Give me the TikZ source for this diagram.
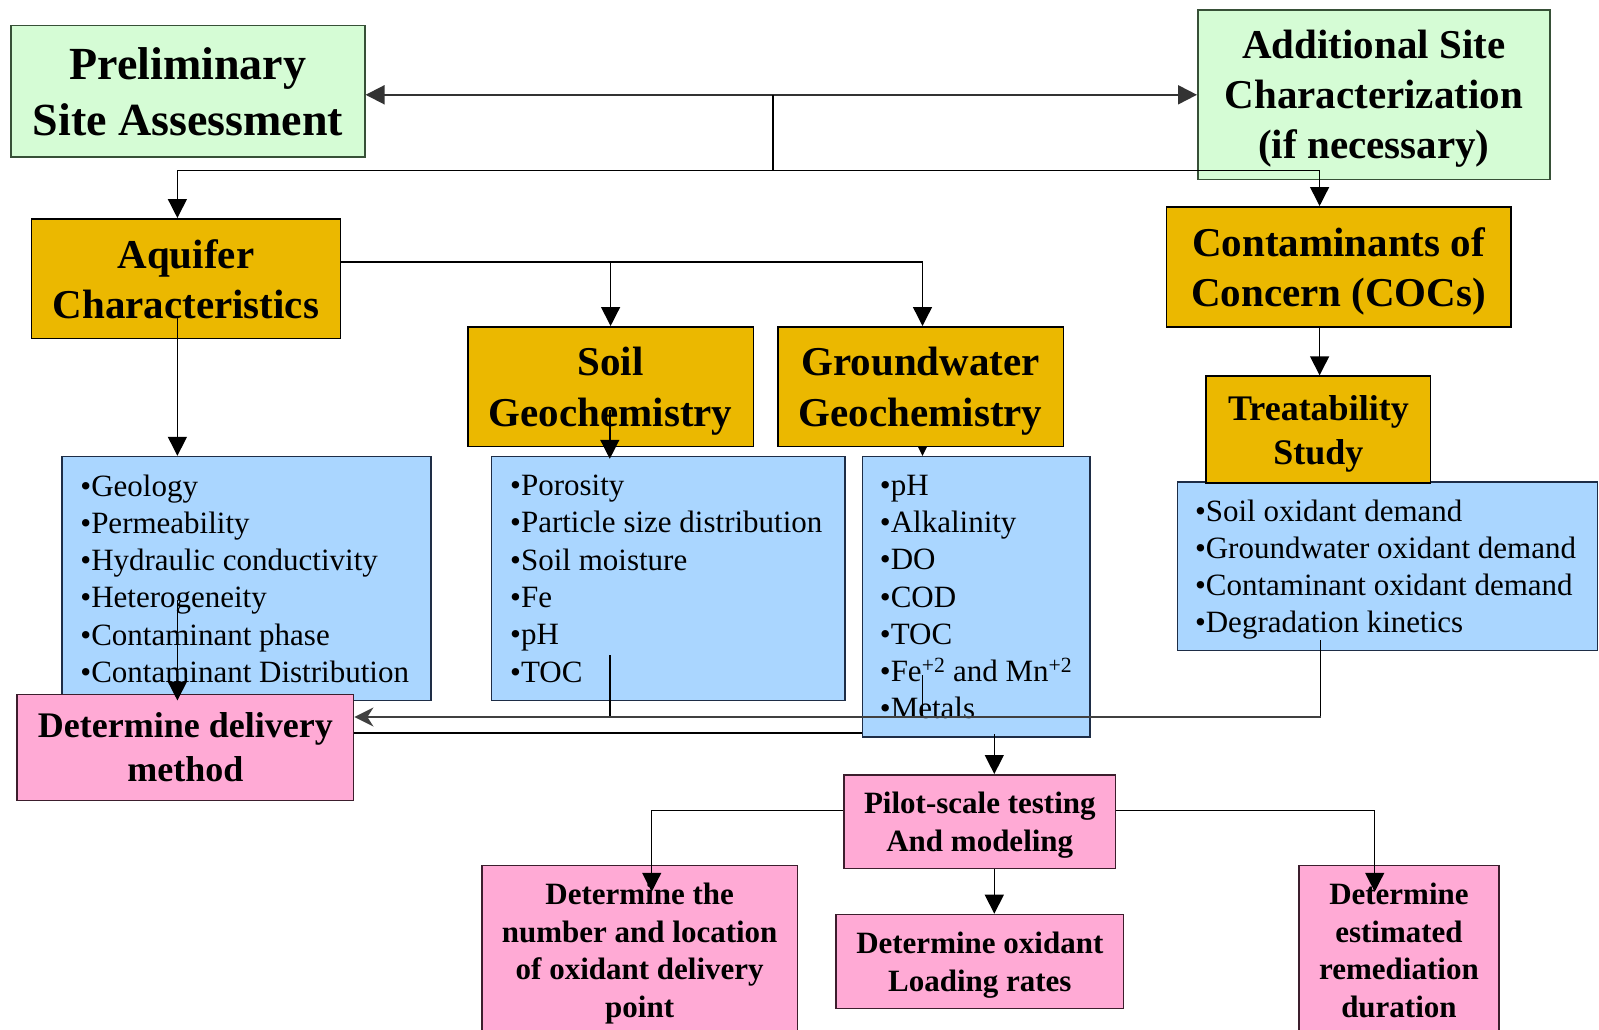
\documentclass[tikz,border=0pt]{standalone}
\usepackage{fontspec}
\setmainfont{Liberation Serif}
\usetikzlibrary{arrows.meta}
\pgfdeclarelayer{background}
\pgfsetlayers{background,main}
\definecolor{cgreen}{RGB}{213,252,213}
\definecolor{cgreenline}{RGB}{55,80,55}
\definecolor{cgold}{RGB}{235,184,0}
\definecolor{cblue}{RGB}{170,214,255}
\definecolor{cblueline}{RGB}{30,45,70}
\definecolor{cpink}{RGB}{255,170,213}
\definecolor{cpinkline}{RGB}{60,30,45}
\begin{document}
\begin{tikzpicture}[x=1pt,y=-1pt,
  box/.style={draw, line width=1.6pt, inner sep=0pt, anchor=north west, align=center, text depth=0pt},
  greenbox/.style={box, fill=cgreen, draw=cgreenline},
  goldbox/.style={box, fill=cgold, draw=black, font=\bfseries\fontsize{41}{50}\selectfont},
  bluebox/.style={box, fill=cblue, draw=cblueline},
  pinkbox/.style={box, fill=cpink, draw=cpinkline, font=\bfseries\fontsize{31}{38}\selectfont},
  listtext/.style={anchor=west, align=left, inner sep=0pt, text depth=0pt, font=\fontsize{31}{37.3}\selectfont},
  conn/.style={line width=1.4pt, draw=black},
  arr/.style={conn, -{Triangle[length=19pt,width=19pt]}},
]
\useasboundingbox (0,0) rectangle (1599,1029);

% top boxes
\node[greenbox, minimum width=353.8pt, minimum height=131.5pt, font=\bfseries\fontsize{46}{56}\selectfont] (prelim) at (10.2,24.5) {Preliminary\\Site Assessment};
\node[greenbox, minimum width=352pt, minimum height=169.3pt, font=\bfseries\fontsize{41}{50}\selectfont] (addl) at (1197,9.2) {Additional Site\\Characterization\\(if necessary)};

% gold boxes
\node[goldbox, minimum width=309pt, minimum height=119.6pt] (aq) at (30.6,218) {Aquifer\\Characteristics};
\node[goldbox, minimum width=344.4pt, minimum height=120pt] (coc) at (1165.6,206) {Contaminants of\\Concern (COCs)};
\node[goldbox, minimum width=285.6pt, minimum height=119.6pt, font=\bfseries\fontsize{41}{51}\selectfont] (soil) at (467,326) {Soil\\Geochemistry};
\node[goldbox, minimum width=285.6pt, minimum height=119.6pt, font=\bfseries\fontsize{41}{51}\selectfont] (gw) at (777,326) {Groundwater\\Geochemistry};

% lists
\node[bluebox, minimum width=369.2pt, minimum height=243.8pt] (aqlist) at (61.2,455.8) {};
\node[listtext] (aqlistt) at ([xshift=19pt]aqlist.west) {•Geology\\•Permeability\\•Hydraulic conductivity\\•Heterogeneity\\•Contaminant phase\\•Contaminant Distribution};
\node[bluebox, minimum width=353.9pt, minimum height=243.8pt] (soillist) at (490.5,455.8) {};
\node[listtext] (soillistt) at ([xshift=19.5pt]soillist.west) {•Porosity\\•Particle size distribution\\•Soil moisture\\•Fe\\•pH\\•TOC};
\node[bluebox, minimum width=227.4pt, minimum height=280.5pt] (gwlist) at (861.7,455.8) {};
\node[listtext] (gwlistt) at ([xshift=18pt]gwlist.west) {•pH\\•Alkalinity\\•DO\\•COD\\•TOC\\•Fe\textsuperscript{+2} and Mn\textsuperscript{+2}\\•Metals};
\node[bluebox, minimum width=420pt, minimum height=168.3pt] (treatlist) at (1176.8,481.3) {};
\node[listtext] (treatlistt) at ([xshift=18pt]treatlist.west) {•Soil oxidant demand\\•Groundwater oxidant demand\\•Contaminant oxidant demand\\•Degradation kinetics};

\node[goldbox, minimum width=224.4pt, minimum height=107.1pt, font=\bfseries\fontsize{36}{44}\selectfont] (treat) at (1205.4,375.3) {Treatability\\Study};

% pink boxes
\node[pinkbox, minimum width=336.5pt, minimum height=106pt, font=\bfseries\fontsize{36}{44}\selectfont] (deliv) at (16.3,693.5) {Determine delivery\\method};
\node[pinkbox, minimum width=271.2pt, minimum height=93.8pt] (pilot) at (843.4,774) {Pilot-scale testing\\And modeling};
\node[pinkbox, minimum width=315.2pt, minimum height=169.2pt, font=\bfseries\fontsize{31}{37.5}\selectfont] (number) at (481.3,864.8) {Determine the\\number and location\\of oxidant delivery\\point};
\node[pinkbox, minimum width=287.6pt, minimum height=93.9pt] (loading) at (835.2,913.7) {Determine oxidant\\Loading rates};
\node[pinkbox, minimum width=199.9pt, minimum height=169.2pt, font=\bfseries\fontsize{31}{37.5}\selectfont] (duration) at (1298.2,864.8) {Determine\\estimated\\remediation\\duration};

% connectors
\coordinate (jtop) at (773,94.8);
\coordinate (jmid) at (773,170.3);
\coordinate (jleft) at (177.4,170.3);
\coordinate (jright) at (1319.6,170.3);
\draw[line width=2pt, draw=black!80, {Triangle[length=19pt,width=19pt]}-{Triangle[length=19pt,width=19pt]}] (prelim.east |- jtop) -- (addl.west |- jtop);
\draw[conn] (jtop) -- (jmid);
\draw[conn] (jleft) -- (jright);
\draw[arr] (jleft) -- (aq.north -| jleft);
\draw[arr] (jright) -- (coc.north -| jright);
\draw[arr] (coc.south -| jright) -- (treat.north -| jright);

\coordinate (ajoin) at (922.5,262);
\draw[conn] (aq.east |- ajoin) -- (ajoin);
\draw[arr] (soil.north |- ajoin) -- (soil.north);
\draw[arr] (ajoin) -- (gw.north -| ajoin);

\coordinate (aqstart) at (177.4,316);
\draw[arr] (aqstart) -- (aqlist.north -| aqstart);
\coordinate (soilstart) at (609.8,410);
\draw[arr] (soilstart) -- ([yshift=-3pt]soillist.north -| soilstart);
\begin{pgfonlayer}{background}
\coordinate (gwstart) at (922.5,400);
\draw[arr] (gwstart) -- (gwlist.north -| gwstart);
\end{pgfonlayer}

\coordinate (aqlstart) at (177.4,600);
\draw[arr] (aqlstart) -- ([yshift=-7pt]deliv.north -| aqlstart);

\coordinate (busy) at (1320.6,717);
\coordinate (s1) at (609.8,655);
\coordinate (s2) at (922.5,675);
\coordinate (s3) at (1320.6,640);
\draw[conn] (s1) -- (s1 |- busy);
\draw[conn] (s2) -- (s2 |- busy);
\draw[conn] (s3) -- (busy);
\draw[line width=2.5pt, draw=black!75, -{Stealth[length=19pt,width=19pt,inset=6pt]}] (busy) -- (deliv.east |- busy);
\coordinate (bus2) at (400,733);
\draw[conn] (deliv.east |- bus2) -- (gwlist.west |- bus2);

\coordinate (gwout) at (994.3,734);
\draw[arr] (gwout) -- (pilot.north -| gwout);
\draw[arr] (pilot.south -| gwout) -- (loading.north -| gwout);
\coordinate (pl) at (651.7,810.7);
\coordinate (pr) at (1374.7,810.7);
\draw[arr] (pilot.west |- pl) -- (pl) -- ([yshift=-27pt]number.north -| pl);
\draw[arr] (pilot.east |- pr) -- (pr) -- ([yshift=-27pt]duration.north -| pr);
\end{tikzpicture}
\end{document}
